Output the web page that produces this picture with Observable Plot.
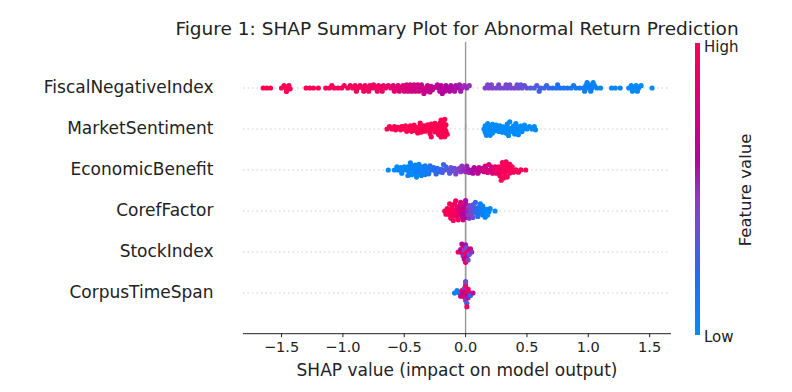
<!DOCTYPE html>
<html>
<head>
<meta charset="utf-8">
<script src="https://cdn.jsdelivr.net/npm/d3@7"></script>
<script src="https://cdn.jsdelivr.net/npm/@observablehq/plot@0.6"></script>
<style>
  html, body { margin: 0; padding: 0; background: #fff; }
  #wrap { position: relative; width: 792px; height: 392px; font-family: "DejaVu Sans", sans-serif; }
  #wrap svg { position: absolute; left: 0; top: 0; }
  .cb-label { position: absolute; font-size: 15px; line-height: 15px; color: #222; white-space: nowrap; }
</style>
</head>
<body>
<div id="wrap"></div>
<script>
// ---------- data ----------
const title = "Figure 1: SHAP Summary Plot for Abnormal Return Prediction";
const xLabel = "SHAP value (impact on model output)";
const features = ["FiscalNegativeIndex", "MarketSentiment", "EconomicBenefit", "CorefFactor", "StockIndex", "CorpusTimeSpan"];
const xTicks = [-1.5, -1.0, -0.5, 0.0, 0.5, 1.0, 1.5];

const fiscalShap = [-1.65,-1.62,-1.59,-1.50,-1.48,-1.46,-1.44,-1.46,-1.43,-1.30,-1.27,-1.24,-1.20,-1.14,-1.11,-1.09,-1.07,
  -1.04,-1.01,-0.99,-0.96,-0.94,-0.92,-0.90,-0.88,-0.86,-0.84,-0.82,-0.80,-0.78,-0.76,-0.75,-0.73,-0.71,-0.69,-0.67,-0.65,
  -0.63,-0.61,-0.59,-0.57,-0.55,-0.53,-0.51,-0.49,-0.48,-0.46,-0.45,-0.43,-0.42,-0.40,-0.39,-0.37,-0.36,-0.35,-0.33,-0.31,-0.30,-0.28,-0.27,
  -0.22,-0.20,-0.18,-0.16,-0.14,-0.12,-0.10,-0.08,-0.06,-0.05,-0.03,-0.01,0.01,0.03,
  0.16,0.19,0.22,0.25,0.28,0.31,0.34,0.37,0.40,0.43,0.46,0.48,0.50,
  0.53,0.56,0.58,0.61,0.64,0.66,0.68,0.71,0.74,0.77,0.80,0.83,0.86,0.90,0.93,
  0.96,0.98,1.00,1.01,1.03,1.05,1.07,1.10,1.19,1.22,1.26,1.33,1.35,1.37,1.39,1.41,1.43,1.52,
  -0.58,-0.54,-0.50,-0.47,-0.44,-0.41,-0.38,-0.34,-0.32,-0.29,-0.25,-0.23,-0.21,-0.19,-0.17,-0.13,-0.09,-0.04,
  0.18,0.21,0.27,0.33,0.36,0.42,0.45,0.97,0.99,1.02,1.04,0.88,0.75,0.60,
  -0.89,-0.83,-0.79,-0.72,-0.68,1.36,1.40];
const fiscalValue = [1.0,1.0,1.0,1.0,0.98,1.0,0.99,0.97,1.0,0.97,1.0,0.98,0.99,0.97,0.98,0.96,0.99,
  0.95,0.97,0.94,0.96,0.95,0.93,0.96,0.94,0.92,0.95,0.93,0.91,0.94,0.92,0.90,0.93,0.91,0.89,0.92,0.90,
  0.85,0.88,0.84,0.86,0.82,0.85,0.80,0.78,0.82,0.76,0.79,0.74,0.77,0.75,0.72,0.76,0.73,0.70,0.74,0.71,0.69,0.72,0.68,
  0.64,0.62,0.65,0.60,0.63,0.58,0.61,0.57,0.59,0.55,0.53,0.50,0.52,0.49,
  0.44,0.42,0.45,0.41,0.43,0.40,0.42,0.39,0.41,0.38,0.36,0.37,0.34,
  0.31,0.28,0.32,0.27,0.29,0.25,0.26,0.21,0.18,0.20,0.16,0.17,0.14,0.15,0.12,
  0.10,0.08,0.11,0.07,0.09,0.06,0.08,0.05,0.04,0.03,0.05,0.02,0.01,0.03,0.0,0.02,0.01,0.0,
  0.83,0.80,0.79,0.77,0.75,0.73,0.74,0.71,0.70,0.68,0.66,0.65,0.63,0.60,0.62,0.60,0.57,0.55,
  0.43,0.41,0.40,0.39,0.41,0.37,0.35,0.09,0.07,0.10,0.05,0.13,0.19,0.26,
  0.93,0.92,0.94,0.91,0.90,0.0,0.01];

const marketShap = [-0.64,-0.62,-0.60,-0.58,-0.57,-0.55,-0.53,-0.52,-0.50,-0.49,-0.48,-0.46,-0.45,-0.44,-0.43,-0.42,-0.41,-0.40,
  -0.39,-0.38,-0.37,-0.37,-0.36,-0.35,-0.34,-0.33,-0.32,-0.31,-0.30,-0.29,-0.29,-0.28,-0.28,-0.27,-0.26,-0.25,-0.25,-0.24,
  -0.23,-0.22,-0.22,-0.21,-0.21,-0.20,-0.20,-0.19,-0.19,-0.18,-0.18,-0.17,-0.17,-0.17,-0.16,-0.16,-0.15,
  0.15,0.16,0.16,0.17,0.18,0.18,0.19,0.20,0.20,0.21,0.22,0.22,0.23,0.24,0.25,0.26,0.27,0.28,0.29,0.30,0.31,0.32,0.33,
  0.34,0.34,0.35,0.35,0.36,0.37,0.38,0.39,0.40,0.40,0.41,0.42,0.42,0.43,0.44,0.45,0.46,0.47,0.48,0.50,0.52,0.54,0.56,0.57];
const marketValue = [1,1,1,1,1,1,1,1,1,1,1,1,1,1,1,1,1,1,
  1,1,1,1,1,1,1,1,1,1,1,1,1,1,1,1,1,1,1,1,
  1,1,1,1,1,1,1,1,1,1,1,1,1,1,1,1,1,
  0,0,0,0,0,0,0,0,0,0,0,0,0,0,0,0,0,0,0,0,0,0,0,
  0,0,0,0,0,0,0,0,0,0,0,0,0,0,0,0,0,0,0,0,0,0,0,0];

const econShap = [-0.63,-0.58,-0.55,-0.53,-0.51,-0.50,-0.48,-0.47,-0.46,-0.45,-0.44,-0.43,-0.42,-0.41,-0.40,-0.39,-0.38,-0.37,-0.36,-0.35,-0.34,-0.33,-0.32,-0.31,-0.30,
  -0.28,-0.26,-0.25,-0.23,-0.22,-0.20,-0.19,-0.17,-0.16,-0.14,-0.12,-0.11,
  -0.09,-0.07,-0.05,-0.04,-0.02,0.00,0.02,0.03,0.05,0.07,0.09,
  0.11,0.12,0.14,0.15,0.17,0.18,0.20,0.21,0.23,0.24,
  0.26,0.27,0.28,0.29,0.30,0.31,0.32,0.32,0.33,0.34,0.35,0.36,0.37,0.38,0.39,0.41,0.43,0.45,0.49,
  -0.47,-0.44,-0.41,-0.38,-0.36,-0.33,-0.29,-0.24,-0.18,-0.13,-0.08,-0.03,0.01,0.06,0.10,0.16,0.19,0.22,0.25,0.28,
  0.30,0.31,0.33,0.34,0.36,0.29,-0.52,-0.56,-0.45,-0.40];
const econValue = [0.0,0.02,0.05,0.01,0.04,0.0,0.06,0.02,0.08,0.03,0.05,0.0,0.07,0.04,0.09,0.02,0.06,0.10,0.05,0.12,0.08,0.11,0.14,0.10,0.16,
  0.20,0.18,0.23,0.21,0.26,0.24,0.28,0.30,0.27,0.33,0.35,0.31,
  0.40,0.43,0.45,0.48,0.50,0.52,0.55,0.53,0.58,0.60,0.62,
  0.68,0.71,0.73,0.70,0.76,0.78,0.80,0.77,0.83,0.85,
  0.90,0.93,0.95,0.91,0.97,0.94,1.0,0.96,0.98,0.92,0.99,0.95,0.97,1.0,0.93,0.96,0.98,1.0,0.97,
  0.03,0.01,0.06,0.04,0.08,0.09,0.18,0.22,0.27,0.32,0.42,0.49,0.54,0.59,0.66,0.74,0.79,0.82,0.88,0.92,
  0.95,0.98,0.96,1.0,0.94,0.97,0.02,0.0,0.07,0.0];

const corefShap = [-0.17,-0.15,-0.14,-0.13,-0.12,-0.11,-0.11,-0.10,-0.09,-0.09,-0.08,-0.07,-0.07,-0.06,-0.05,-0.05,-0.04,-0.03,-0.03,-0.02,-0.01,-0.01,
  0.00,0.00,0.01,0.02,0.02,0.03,0.04,0.05,0.05,0.06,0.07,0.08,0.09,0.10,0.11,0.12,0.13,0.14,0.15,0.17,0.19,0.24,
  -0.16,-0.13,-0.12,-0.10,-0.08,-0.06,-0.04,-0.02,0.00,0.03,0.06,0.08,0.10,0.12,0.14,0.16,0.18,0.20];
const corefValue = [1.0,0.97,0.99,0.95,1.0,0.96,0.93,0.98,0.94,0.90,0.97,0.92,0.88,0.85,0.80,0.83,0.76,0.72,0.70,0.68,0.65,0.62,
  0.60,0.64,0.55,0.50,0.47,0.45,0.42,0.38,0.40,0.33,0.30,0.27,0.22,0.20,0.15,0.12,0.10,0.08,0.05,0.03,0.02,0.0,
  0.98,1.0,0.95,0.97,0.93,0.90,0.80,0.70,0.58,0.50,0.36,0.25,0.18,0.10,0.06,0.04,0.0,0.05];

const stockShap = [-0.06,-0.04,-0.03,-0.02,-0.02,-0.01,-0.01,0.00,0.00,0.00,0.01,0.01,0.02,0.02,0.03,0.04,0.05,-0.03];
const stockValue = [0.9,0.6,0.8,0.5,0.95,0.4,0.7,1.0,0.55,0.85,0.35,0.65,0.9,0.45,0.3,0.75,0.5,0.6];

const corpusShap = [-0.09,-0.07,-0.05,-0.03,-0.02,-0.01,-0.01,0.00,0.00,0.00,0.01,0.01,0.02,0.02,0.03,0.04,0.06,-0.04,0.00,0.01];
const corpusValue = [0.1,0.05,0.15,0.9,0.6,1.0,0.45,0.8,0.5,0.95,0.7,0.3,0.85,0.55,0.9,0.2,0.65,0.75,0.4,0.95];

// colour-bar stops (feature value -> colour)
const cStops = [0, 0.2, 0.33, 0.47, 0.6, 0.8, 1];
const cColors = ["#008bfb", "#1f6ff0", "#5e55da", "#8c3cc4", "#b0049e", "#dc0078", "#ff0052"];

// ---------- build table ----------
const rows = [];
const add = (name, s, v) => s.forEach((d, i) => rows.push({feature: name, shap: d, value: v[i]}));
add(features[0], fiscalShap, fiscalValue);
add(features[1], marketShap, marketValue);
add(features[2], econShap, econValue);
add(features[3], corefShap, corefValue);
add(features[4], stockShap, stockValue);
add(features[5], corpusShap, corpusValue);

const chart = Plot.plot({
  width: 792, height: 392,
  marginLeft: 243, marginRight: 122, marginTop: 65.2, marginBottom: 77.2,
  style: {fontFamily: "DejaVu Sans, sans-serif", fontSize: "14px", color: "#222", background: "#fff"},
  x: {domain: [-1.81, 1.67]},
  fy: {domain: features, padding: 0},
  color: {type: "linear", domain: cStops, range: cColors},
  marks: [
    Plot.gridFy({stroke: "#cccccc", strokeOpacity: 1, strokeDasharray: "1.5,3"}),
    Plot.ruleX([0], {stroke: "#999", strokeWidth: 1.4, insetTop: -25.2, insetBottom: -20.2}),
    Plot.dot(rows, Plot.dodgeY({anchor: "middle", x: "shap", fy: "feature", fill: "value", r: 2.6, padding: -1.8})),
    Plot.axisFy({anchor: "left", tickSize: 0, tickPadding: 30, fontSize: 17, label: null}),
    Plot.axisX({ticks: xTicks, tickSize: 4, tickPadding: 4, fontSize: 14.5, label: null, dy: 20.2}),
    Plot.frame({anchor: "bottom", facet: "super", stroke: "#222", dy: 20.2}),
    Plot.text([xLabel], {facet: "super", frameAnchor: "bottom", lineAnchor: "middle", dy: 57, fontSize: 17}),
    Plot.text([title], {facet: "super", frameAnchor: "top", lineAnchor: "middle", dy: -38.5, fontSize: 18.5})
  ]
});
const wrap = document.getElementById("wrap");
wrap.appendChild(chart);

// ---------- colour bar ----------
const cScale = d3.scaleLinear().domain(cStops).range(cColors);
const stops = d3.range(0, 1.0001, 0.05).map(t => `${cScale(t)} ${(100 - t * 100).toFixed(1)}%`).reverse();
const bar = document.createElement("div");
bar.style.cssText = `position:absolute;left:695px;top:43px;width:5px;height:292px;background:linear-gradient(to bottom, ${stops.join(",")});`;
wrap.appendChild(bar);
const hi = document.createElement("div"); hi.className = "cb-label"; hi.textContent = "High";
hi.style.cssText += "left:704px;top:40px;";
const lo = document.createElement("div"); lo.className = "cb-label"; lo.textContent = "Low";
lo.style.cssText += "left:704px;top:330px;";
const fv = document.createElement("div"); fv.className = "cb-label"; fv.textContent = "Feature value";
fv.style.cssText += "left:745px;top:190px;transform:translate(-50%,-50%) rotate(-90deg);font-size:16.5px;line-height:17px;";
wrap.append(hi, lo, fv);
</script>
</body>
</html>
